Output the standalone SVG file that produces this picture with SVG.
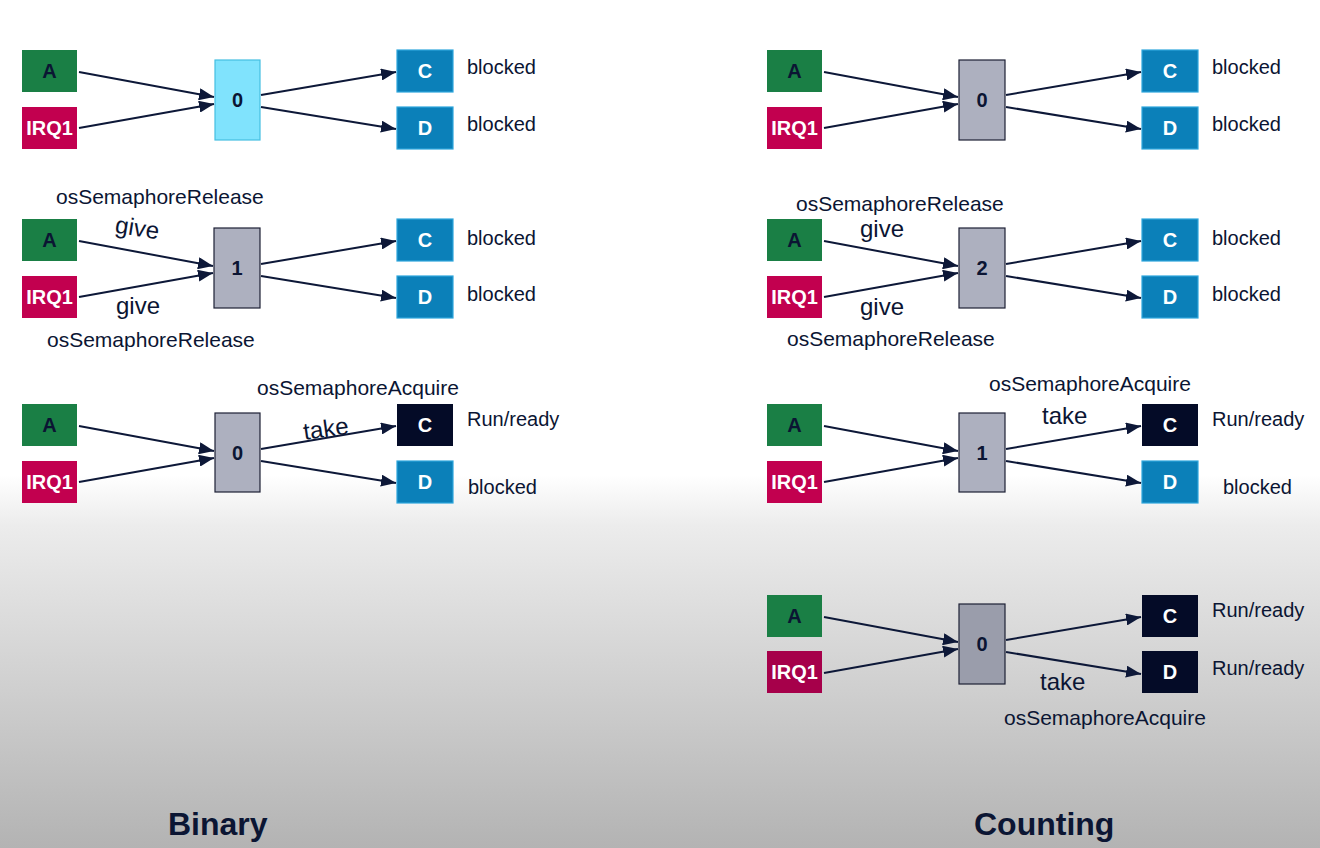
<svg xmlns="http://www.w3.org/2000/svg" width="1320" height="848" viewBox="0 0 1320 848">
<defs>
<linearGradient id="bg" x1="0" y1="0" x2="0" y2="1">
<stop offset="0" stop-color="#ffffff"/>
<stop offset="0.56" stop-color="#ffffff"/>
<stop offset="0.62" stop-color="#ececec"/>
<stop offset="1" stop-color="#b3b3b3"/>
</linearGradient>
<marker id="ah" viewBox="0 0 15 12" refX="15" refY="6" markerWidth="15" markerHeight="12" markerUnits="userSpaceOnUse" orient="auto">
<path d="M0,0 L15,6 L0,12 Z" fill="#0d1838"/>
</marker>
<style>
text{font-family:"Liberation Sans",Arial,sans-serif;fill:#0b1533}
.lbl{font-size:21px}
.st{font-size:20px}
.gv{font-size:24px}
.bt{font-size:20px;font-weight:bold;text-anchor:middle}
.w{fill:#ffffff}
.ttl{font-size:32px;font-weight:bold}
.a{fill:#1a7f45}
.irq{fill:#c2004f}
.irq2{fill:#a6004a}
.blue{fill:#0b80b9;stroke:#2ea6dc;stroke-width:1.2}
.dark{fill:#040b27}
.sem{fill:#adb0bf;stroke:#1d2035;stroke-width:1.2}
.sem2{fill:#9a9dab;stroke:#1d2035;stroke-width:1.2}
.cyan{fill:#80e3fd;stroke:#45bfe2;stroke-width:1.2}
.ln{stroke:#0d1838;stroke-width:2;fill:none;marker-end:url(#ah)}
</style>
</defs>
<rect x="0" y="0" width="1320" height="848" fill="url(#bg)"/>

<!-- Binary row 1 -->
<g id="b1-A"><rect class="a" x="22" y="50" width="55" height="42"/><text class="bt" x="49.5" y="78">A</text></g>
<g id="b1-IRQ1"><rect class="irq" x="22" y="107" width="55" height="42"/><text class="bt w" x="49.5" y="135">IRQ1</text></g>
<g id="b1-sem"><rect class="cyan" x="215" y="60" width="45" height="80"/><text class="bt" x="237.5" y="107">0</text></g>
<g id="b1-C"><rect class="blue" x="397" y="50" width="56" height="42"/><text class="bt w" x="425" y="78">C</text></g>
<g id="b1-D"><rect class="blue" x="397" y="107" width="56" height="42"/><text class="bt w" x="425" y="135">D</text></g>
<text class="st" x="467" y="74">blocked</text>
<text class="st" x="467" y="131">blocked</text>

<!-- Binary row 2 -->
<g id="b2-A"><rect class="a" x="22" y="219" width="55" height="42"/><text class="bt" x="49.5" y="247">A</text></g>
<g id="b2-IRQ1"><rect class="irq" x="22" y="276" width="55" height="42"/><text class="bt w" x="49.5" y="304">IRQ1</text></g>
<g id="b2-sem"><rect class="sem" x="214" y="228" width="46" height="80"/><text class="bt" x="237" y="275">1</text></g>
<g id="b2-C"><rect class="blue" x="397" y="219" width="56" height="42"/><text class="bt w" x="425" y="247">C</text></g>
<g id="b2-D"><rect class="blue" x="397" y="276" width="56" height="42"/><text class="bt w" x="425" y="304">D</text></g>
<text class="st" x="467" y="245">blocked</text>
<text class="st" x="467" y="301">blocked</text>
<text class="lbl" x="56" y="204">osSemaphoreRelease</text>
<text class="gv" x="115" y="236" transform="rotate(9 137 230)">give</text>
<text class="gv" x="116" y="314">give</text>
<text class="lbl" x="47" y="347">osSemaphoreRelease</text>

<!-- Binary row 3 -->
<g id="b3-A"><rect class="a" x="22" y="404" width="55" height="42"/><text class="bt" x="49.5" y="432">A</text></g>
<g id="b3-IRQ1"><rect class="irq" x="22" y="461" width="55" height="42"/><text class="bt w" x="49.5" y="489">IRQ1</text></g>
<g id="b3-sem"><rect class="sem" x="215" y="413" width="45" height="79"/><text class="bt" x="237.5" y="460">0</text></g>
<g id="b3-C"><rect class="dark" x="397" y="404" width="56" height="42"/><text class="bt w" x="425" y="432">C</text></g>
<g id="b3-D"><rect class="blue" x="397" y="461" width="56" height="42"/><text class="bt w" x="425" y="489">D</text></g>
<text class="st" x="467" y="426">Run/ready</text>
<text class="st" x="468" y="494">blocked</text>
<text class="lbl" x="257" y="395">osSemaphoreAcquire</text>
<text class="gv" x="303" y="437" transform="rotate(-8 325 428)">take</text>

<!-- Counting row 1 -->
<g id="c1-A"><rect class="a" x="767" y="50" width="55" height="42"/><text class="bt" x="794.5" y="78">A</text></g>
<g id="c1-IRQ1"><rect class="irq" x="767" y="107" width="55" height="42"/><text class="bt w" x="794.5" y="135">IRQ1</text></g>
<g id="c1-sem"><rect class="sem" x="959" y="60" width="46" height="80"/><text class="bt" x="982" y="107">0</text></g>
<g id="c1-C"><rect class="blue" x="1142" y="50" width="56" height="42"/><text class="bt w" x="1170" y="78">C</text></g>
<g id="c1-D"><rect class="blue" x="1142" y="107" width="56" height="42"/><text class="bt w" x="1170" y="135">D</text></g>
<text class="st" x="1212" y="74">blocked</text>
<text class="st" x="1212" y="131">blocked</text>

<!-- Counting row 2 -->
<g id="c2-A"><rect class="a" x="767" y="219" width="55" height="42"/><text class="bt" x="794.5" y="247">A</text></g>
<g id="c2-IRQ1"><rect class="irq" x="767" y="276" width="55" height="42"/><text class="bt w" x="794.5" y="304">IRQ1</text></g>
<g id="c2-sem"><rect class="sem" x="959" y="228" width="46" height="80"/><text class="bt" x="982" y="275">2</text></g>
<g id="c2-C"><rect class="blue" x="1142" y="219" width="56" height="42"/><text class="bt w" x="1170" y="247">C</text></g>
<g id="c2-D"><rect class="blue" x="1142" y="276" width="56" height="42"/><text class="bt w" x="1170" y="304">D</text></g>
<text class="st" x="1212" y="245">blocked</text>
<text class="st" x="1212" y="301">blocked</text>
<text class="lbl" x="796" y="211">osSemaphoreRelease</text>
<text class="gv" x="860" y="237">give</text>
<text class="gv" x="860" y="315">give</text>
<text class="lbl" x="787" y="346">osSemaphoreRelease</text>

<!-- Counting row 3 -->
<g id="c3-A"><rect class="a" x="767" y="404" width="55" height="42"/><text class="bt" x="794.5" y="432">A</text></g>
<g id="c3-IRQ1"><rect class="irq" x="767" y="461" width="55" height="42"/><text class="bt w" x="794.5" y="489">IRQ1</text></g>
<g id="c3-sem"><rect class="sem" x="959" y="413" width="46" height="79"/><text class="bt" x="982" y="460">1</text></g>
<g id="c3-C"><rect class="dark" x="1142" y="404" width="56" height="42"/><text class="bt w" x="1170" y="432">C</text></g>
<g id="c3-D"><rect class="blue" x="1142" y="461" width="56" height="42"/><text class="bt w" x="1170" y="489">D</text></g>
<text class="st" x="1212" y="426">Run/ready</text>
<text class="st" x="1223" y="494">blocked</text>
<text class="lbl" x="989" y="391">osSemaphoreAcquire</text>
<text class="gv" x="1042" y="424">take</text>

<!-- Counting row 4 -->
<g id="c4-A"><rect class="a" x="767" y="595" width="55" height="42"/><text class="bt" x="794.5" y="623">A</text></g>
<g id="c4-IRQ1"><rect class="irq2" x="767" y="651" width="55" height="42"/><text class="bt w" x="794.5" y="679">IRQ1</text></g>
<g id="c4-sem"><rect class="sem2" x="959" y="604" width="46" height="80"/><text class="bt" x="982" y="651">0</text></g>
<g id="c4-C"><rect class="dark" x="1142" y="595" width="56" height="42"/><text class="bt w" x="1170" y="623">C</text></g>
<g id="c4-D"><rect class="dark" x="1142" y="651" width="56" height="42"/><text class="bt w" x="1170" y="679">D</text></g>
<text class="st" x="1212" y="617">Run/ready</text>
<text class="st" x="1212" y="675">Run/ready</text>
<text class="gv" x="1040" y="690">take</text>
<text class="lbl" x="1004" y="725">osSemaphoreAcquire</text>

<text class="ttl" x="168" y="835">Binary</text>
<text class="ttl" x="974" y="835">Counting</text>

<g id="connectors">
<line class="ln" x1="79" y1="72" x2="214" y2="97"/>
<line class="ln" x1="79" y1="128" x2="214" y2="104"/>
<line class="ln" x1="261" y1="95" x2="396" y2="72"/>
<line class="ln" x1="261" y1="107" x2="396" y2="129"/>

<line class="ln" x1="79" y1="241" x2="213" y2="266"/>
<line class="ln" x1="79" y1="297" x2="213" y2="273"/>
<line class="ln" x1="261" y1="264" x2="396" y2="241"/>
<line class="ln" x1="261" y1="276" x2="396" y2="298"/>

<line class="ln" x1="79" y1="426" x2="214" y2="451"/>
<line class="ln" x1="79" y1="482" x2="214" y2="458"/>
<line class="ln" x1="261" y1="449" x2="396" y2="426"/>
<line class="ln" x1="261" y1="461" x2="396" y2="483"/>

<line class="ln" x1="824" y1="72" x2="958" y2="97"/>
<line class="ln" x1="824" y1="128" x2="958" y2="104"/>
<line class="ln" x1="1006" y1="95" x2="1141" y2="72"/>
<line class="ln" x1="1006" y1="107" x2="1141" y2="129"/>

<line class="ln" x1="824" y1="241" x2="958" y2="266"/>
<line class="ln" x1="824" y1="297" x2="958" y2="273"/>
<line class="ln" x1="1006" y1="264" x2="1141" y2="241"/>
<line class="ln" x1="1006" y1="276" x2="1141" y2="298"/>

<line class="ln" x1="824" y1="426" x2="958" y2="451"/>
<line class="ln" x1="824" y1="482" x2="958" y2="458"/>
<line class="ln" x1="1006" y1="449" x2="1141" y2="426"/>
<line class="ln" x1="1006" y1="461" x2="1141" y2="483"/>

<line class="ln" x1="824" y1="617" x2="958" y2="642"/>
<line class="ln" x1="824" y1="673" x2="958" y2="649"/>
<line class="ln" x1="1006" y1="640" x2="1141" y2="617"/>
<line class="ln" x1="1006" y1="652" x2="1141" y2="674"/>
</g>
</svg>
